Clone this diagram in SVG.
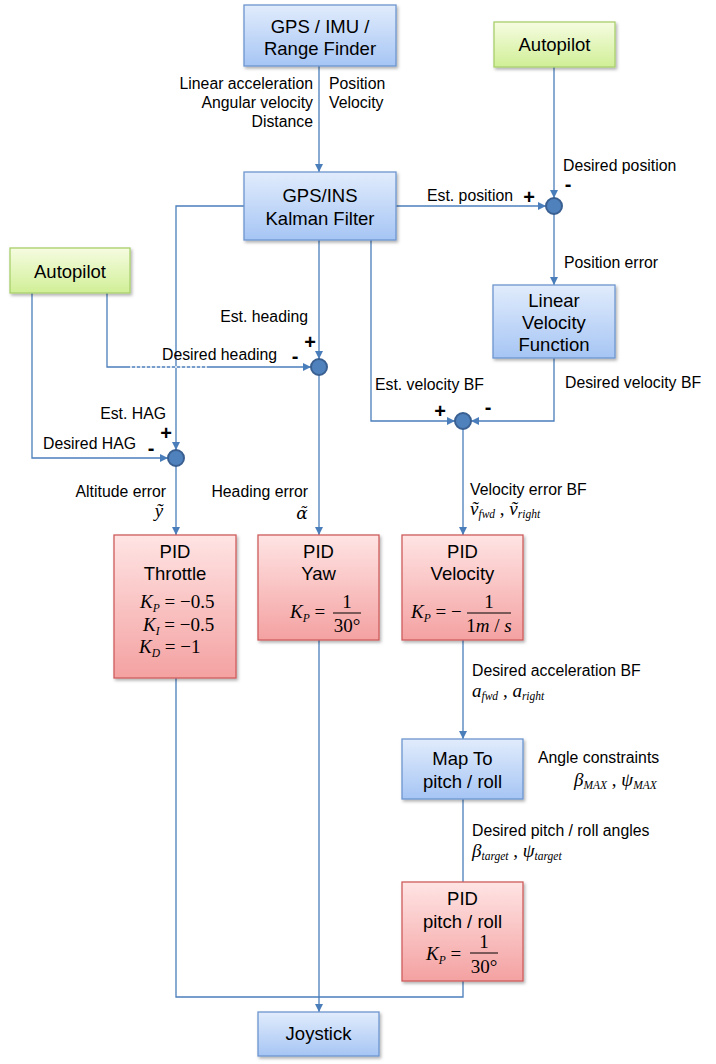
<svg xmlns="http://www.w3.org/2000/svg" width="716" height="1064" viewBox="0 0 716 1064">
<defs>
<linearGradient id="gBlue" x1="0" y1="0" x2="0" y2="1"><stop offset="0" stop-color="#e1ecfc"/><stop offset="1" stop-color="#a6c5f4"/></linearGradient>
<linearGradient id="gPink" x1="0" y1="0" x2="0" y2="1"><stop offset="0" stop-color="#ffe4e4"/><stop offset="1" stop-color="#f4a1a1"/></linearGradient>
<linearGradient id="gGreen" x1="0" y1="0" x2="0" y2="1"><stop offset="0" stop-color="#f6fce1"/><stop offset="1" stop-color="#d0ef96"/></linearGradient>
<filter id="sh" x="-10%" y="-10%" width="125%" height="130%"><feDropShadow dx="1.5" dy="2" stdDeviation="1.5" flood-color="#000" flood-opacity="0.3"/></filter>
<marker id="ar" markerUnits="userSpaceOnUse" markerWidth="9" markerHeight="9" refX="8" refY="4" orient="auto"><path d="M0,0 L8,4 L0,8 z" fill="#4a7ebb"/></marker>
<style>
.blue{fill:url(#gBlue);stroke:#6e96cf;stroke-width:1.3;filter:url(#sh)}
.pink{fill:url(#gPink);stroke:#cf5c5c;stroke-width:1.3;filter:url(#sh)}
.green{fill:url(#gGreen);stroke:#a9cf6c;stroke-width:1.3;filter:url(#sh)}
.bt{font-family:"Liberation Sans",Arial,sans-serif;font-size:18.5px;fill:#000;text-anchor:middle}
.lb{font-family:"Liberation Sans",Arial,sans-serif;font-size:15.8px;fill:#000}
.e{text-anchor:end}
.sg{font-family:"Liberation Sans",Arial,sans-serif;font-size:20px;font-weight:bold;fill:#000;text-anchor:middle}
.m{font-family:"Liberation Serif","Times New Roman",serif;font-size:19px;font-style:italic;fill:#000}
.r{font-style:normal}
.s{font-size:11.5px}
.mc{text-anchor:middle}
.cn path{fill:none;stroke:#4a7ebb;stroke-width:1.3}
.j{fill:#4f81bd;stroke:#3a6091;stroke-width:2}
.fb{stroke:#000;stroke-width:1}
</style>
</defs>
<rect width="716" height="1064" fill="#fff"/>
<g id="connectors" class="cn">
<path d="M319,66 V172" marker-end="url(#ar)"/>
<path d="M554,67 V198" marker-end="url(#ar)"/>
<path d="M396,206 H546" marker-end="url(#ar)"/>
<path d="M554,214 V285" marker-end="url(#ar)"/>
<path d="M244,206 H176 V450" marker-end="url(#ar)"/>
<path d="M319,240 V359" marker-end="url(#ar)"/>
<path d="M371,240 V421 H455" marker-end="url(#ar)"/>
<path d="M554,358 V421 H471" marker-end="url(#ar)"/>
<path d="M32,293 V458 H168" marker-end="url(#ar)"/>
<path d="M107,293 V367 H311" marker-end="url(#ar)"/>
<path d="M130,367 H207" style="stroke:#fff;stroke-width:1.6;stroke-dasharray:2 3"/>
<path d="M319,375 V535" marker-end="url(#ar)"/>
<path d="M176,466 V535" marker-end="url(#ar)"/>
<path d="M463,429 V535" marker-end="url(#ar)"/>
<path d="M463,640 V739" marker-end="url(#ar)"/>
<path d="M463,799 V882"/>
<path d="M176,678 V997 H463 V981"/>
<path d="M319,640 V1012" marker-end="url(#ar)"/>
</g>
<g id="sum_position"><circle class="j" cx="554" cy="206" r="8"/></g>
<g id="sum_heading"><circle class="j" cx="319" cy="367" r="8"/></g>
<g id="sum_velocity"><circle class="j" cx="463" cy="421" r="8"/></g>
<g id="sum_hag"><circle class="j" cx="176" cy="458" r="8"/></g>
<g id="gps_imu"><rect class="blue" x="244" y="5" width="152" height="61"/><text class="bt" x="320" y="32.5">GPS / IMU /</text><text class="bt" x="320" y="55">Range Finder</text></g>
<g id="kalman"><rect class="blue" x="244" y="172" width="152" height="68"/><text class="bt" x="320" y="201.5">GPS/INS</text><text class="bt" x="320" y="224.5">Kalman Filter</text></g>
<g id="autopilot_right"><rect class="green" x="494" y="22" width="121" height="45"/><text class="bt" x="554.5" y="50.5">Autopilot</text></g>
<g id="autopilot_left"><rect class="green" x="10" y="248" width="120" height="45"/><text class="bt" x="70" y="277.5">Autopilot</text></g>
<g id="linear_velocity"><rect class="blue" x="493" y="285" width="122" height="73"/><text class="bt" x="554" y="306.5">Linear</text><text class="bt" x="554" y="329">Velocity</text><text class="bt" x="554" y="350.5">Function</text></g>
<g id="pid_throttle"><rect class="pink" x="114" y="535" width="122" height="143"/><text class="bt" x="175" y="558">PID</text><text class="bt" x="175" y="580">Throttle</text>
<text class="m" x="140" y="608">K<tspan class="s" dy="4">P</tspan><tspan class="r" dy="-4"> = −0.5</tspan></text>
<text class="m" x="143" y="630.5">K<tspan class="s" dy="4">I</tspan><tspan class="r" dy="-4">  = −0.5</tspan></text>
<text class="m" x="139" y="653">K<tspan class="s" dy="4">D</tspan><tspan class="r" dy="-4"> = −1</tspan></text></g>
<g id="pid_yaw"><rect class="pink" x="258" y="535" width="121" height="105"/><text class="bt" x="318.5" y="558">PID</text><text class="bt" x="318.5" y="580">Yaw</text>
<text class="m" x="290" y="618">K<tspan class="s" dy="4">P</tspan><tspan class="r" dy="-4"> =</tspan></text>
<text class="m r mc" x="347" y="608">1</text><line class="fb" x1="333" y1="613" x2="361" y2="613"/><text class="m r mc" x="347" y="631.5">30°</text></g>
<g id="pid_velocity"><rect class="pink" x="402" y="535" width="121" height="105"/><text class="bt" x="462.5" y="558">PID</text><text class="bt" x="462.5" y="580">Velocity</text>
<text class="m" x="411" y="618">K<tspan class="s" dy="4">P</tspan><tspan class="r" dy="-4"> = −</tspan></text>
<text class="m r mc" x="489" y="608">1</text><line class="fb" x1="467" y1="613" x2="511" y2="613"/><text class="m mc" x="489" y="631.5"><tspan class="r">1</tspan>m<tspan class="r"> / </tspan>s</text></g>
<g id="map_pitch_roll"><rect class="blue" x="402" y="739" width="121" height="60"/><text class="bt" x="462.5" y="764.5">Map To</text><text class="bt" x="462.5" y="788">pitch / roll</text></g>
<g id="pid_pitch_roll"><rect class="pink" x="402" y="882" width="121" height="99"/><text class="bt" x="462.5" y="904.5">PID</text><text class="bt" x="462.5" y="928">pitch / roll</text>
<text class="m" x="426" y="959.5">K<tspan class="s" dy="4">P</tspan><tspan class="r" dy="-4"> =</tspan></text>
<text class="m r mc" x="484" y="947.5">1</text><line class="fb" x1="470" y1="953" x2="498" y2="953"/><text class="m r mc" x="484" y="973">30°</text></g>
<g id="joystick"><rect class="blue" x="258" y="1012" width="121" height="44"/><text class="bt" x="318.5" y="1039.5">Joystick</text></g>
<g id="labels">
<text class="lb e" x="313" y="89">Linear acceleration</text>
<text class="lb e" x="313" y="108">Angular velocity</text>
<text class="lb e" x="313" y="127">Distance</text>
<text class="lb" x="329" y="89">Position</text>
<text class="lb" x="329" y="108">Velocity</text>
<text class="lb" x="563" y="170.5">Desired position</text>
<text class="sg" x="568" y="191">-</text>
<text class="lb" x="427" y="200.5">Est. position</text>
<text class="sg" x="529" y="204">+</text>
<text class="lb" x="564" y="267.5">Position error</text>
<text class="lb e" x="308" y="322">Est. heading</text>
<text class="sg" x="310" y="348.5">+</text>
<text class="lb" x="162" y="359.5">Desired heading</text>
<text class="sg" x="295" y="363">-</text>
<text class="lb" x="375" y="389.5">Est. velocity BF</text>
<text class="lb" x="565" y="388">Desired velocity BF</text>
<text class="sg" x="440" y="418">+</text>
<text class="sg" x="488" y="414">-</text>
<text class="lb e" x="166" y="418.5">Est. HAG</text>
<text class="sg" x="166" y="440">+</text>
<text class="lb" x="43" y="448.5">Desired HAG</text>
<text class="sg" x="151" y="455">-</text>
<text class="lb e" x="166" y="496.5">Altitude error</text>
<text class="lb e" x="308" y="496.5">Heading error</text>
<text class="lb" x="470" y="494.5">Velocity error BF</text>
<text class="m mc" x="159" y="517">ỹ</text>
<text class="m mc" x="302" y="519" style="font-family:'DejaVu Serif',serif;font-size:17px">α̃</text>
<text class="m" x="470" y="515">ṽ<tspan class="s" dy="3">fwd</tspan><tspan class="r" dy="-3"> , </tspan>ṽ<tspan class="s" dy="3">right</tspan></text>
<text class="lb" x="472" y="675.5">Desired acceleration BF</text>
<text class="m" x="472" y="697">a<tspan class="s" dy="3">fwd</tspan><tspan class="r" dy="-3"> , </tspan>a<tspan class="s" dy="3">right</tspan></text>
<text class="lb" x="538" y="763">Angle constraints</text>
<text class="m" x="574" y="786">β<tspan class="s" dy="3">MAX</tspan><tspan class="r" dy="-3"> , </tspan>ψ<tspan class="s" dy="3">MAX</tspan></text>
<text class="lb" x="472" y="835.5">Desired pitch / roll angles</text>
<text class="m" x="472" y="857">β<tspan class="s" dy="3">target</tspan><tspan class="r" dy="-3"> , </tspan>ψ<tspan class="s" dy="3">target</tspan></text>
</g>
</svg>
